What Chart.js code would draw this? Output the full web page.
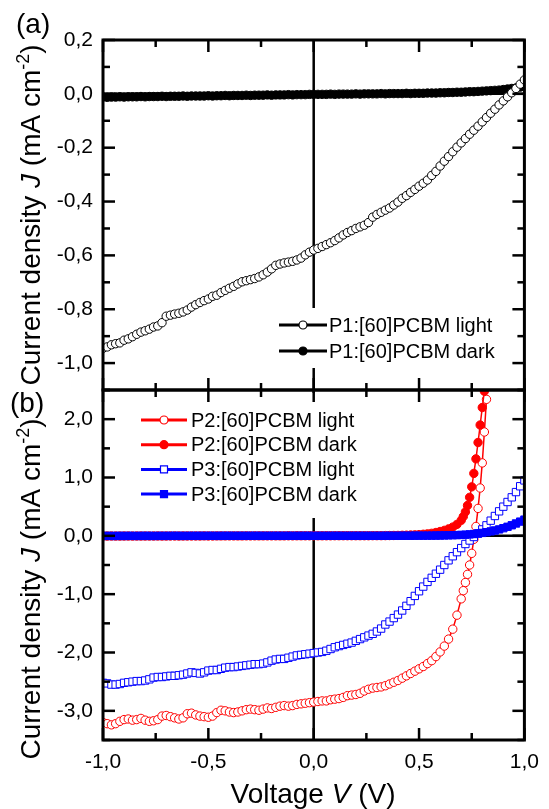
<!DOCTYPE html>
<html>
<head>
<meta charset="utf-8">
<script src="https://cdn.jsdelivr.net/npm/chart.js@4.4.1/dist/chart.umd.min.js"></script>
<style>
  html, body { margin: 0; padding: 0; background: #fff; }
  canvas { display: block; }
</style>
</head>
<body>
<canvas id="jvChart" width="549" height="809"></canvas>
<script>
// voltage sweep (V)
const volts = [
  -1.00, -0.98, -0.96, -0.94, -0.92, -0.90, -0.88, -0.86, -0.84, -0.82,
  -0.80, -0.78, -0.76, -0.74, -0.72, -0.70, -0.68, -0.66, -0.64, -0.62,
  -0.60, -0.58, -0.56, -0.54, -0.52, -0.50, -0.48, -0.46, -0.44, -0.42,
  -0.40, -0.38, -0.36, -0.34, -0.32, -0.30, -0.28, -0.26, -0.24, -0.22,
  -0.20, -0.18, -0.16, -0.14, -0.12, -0.10, -0.08, -0.06, -0.04, -0.02,
  0.00, 0.02, 0.04, 0.06, 0.08, 0.10, 0.12, 0.14, 0.16, 0.18,
  0.20, 0.22, 0.24, 0.26, 0.28, 0.30, 0.32, 0.34, 0.36, 0.38,
  0.40, 0.42, 0.44, 0.46, 0.48, 0.50, 0.52, 0.54, 0.56, 0.58,
  0.60, 0.62, 0.64, 0.66, 0.68, 0.70, 0.72, 0.74, 0.76, 0.78,
  0.80, 0.82, 0.84, 0.86, 0.88, 0.90, 0.92, 0.94, 0.96, 0.98,
  1.00
];

// P2 sweep: finer steps past 0.70 V, stops where the current leaves the axis
const voltsP2 = [
  -1.00, -0.98, -0.96, -0.94, -0.92, -0.90, -0.88, -0.86, -0.84, -0.82,
  -0.80, -0.78, -0.76, -0.74, -0.72, -0.70, -0.68, -0.66, -0.64, -0.62,
  -0.60, -0.58, -0.56, -0.54, -0.52, -0.50, -0.48, -0.46, -0.44, -0.42,
  -0.40, -0.38, -0.36, -0.34, -0.32, -0.30, -0.28, -0.26, -0.24, -0.22,
  -0.20, -0.18, -0.16, -0.14, -0.12, -0.10, -0.08, -0.06, -0.04, -0.02,
  0.00, 0.02, 0.04, 0.06, 0.08, 0.10, 0.12, 0.14, 0.16, 0.18,
  0.20, 0.22, 0.24, 0.26, 0.28, 0.30, 0.32, 0.34, 0.36, 0.38,
  0.40, 0.42, 0.44, 0.46, 0.48, 0.50, 0.52, 0.54, 0.56, 0.58,
  0.60, 0.62, 0.64, 0.66, 0.68, 0.70,
  0.71, 0.72, 0.73, 0.74, 0.75, 0.76, 0.77, 0.78, 0.79, 0.80, 0.81, 0.82
];

// current density J (mA cm^-2)
const p1Light = [
  -0.945, -0.940, -0.932, -0.928, -0.925, -0.915, -0.910, -0.902, -0.893, -0.885,
  -0.880, -0.874, -0.866, -0.862, -0.850, -0.826, -0.822, -0.818, -0.815, -0.810,
  -0.803, -0.792, -0.783, -0.775, -0.768, -0.762, -0.752, -0.748, -0.738, -0.730,
  -0.722, -0.715, -0.706, -0.698, -0.694, -0.690, -0.686, -0.680, -0.672, -0.662,
  -0.650, -0.637, -0.632, -0.628, -0.625, -0.622, -0.617, -0.610, -0.598, -0.588,
  -0.580, -0.574, -0.567, -0.560, -0.553, -0.545, -0.535, -0.524, -0.515, -0.508,
  -0.500, -0.494, -0.488, -0.478, -0.458, -0.448, -0.440, -0.432, -0.424, -0.413,
  -0.402, -0.388, -0.378, -0.366, -0.355, -0.343, -0.332, -0.320, -0.303, -0.288,
  -0.268, -0.250, -0.233, -0.215, -0.198, -0.182, -0.166, -0.150, -0.135, -0.120,
  -0.104, -0.088, -0.072, -0.057, -0.041, -0.026, -0.011, 0.004, 0.020, 0.036,
  0.052
];
const p1Dark = [
  -0.012, -0.013, -0.012, -0.012, -0.011, -0.012, -0.011, -0.011, -0.011, -0.010,
  -0.011, -0.010, -0.010, -0.010, -0.009, -0.010, -0.009, -0.009, -0.009, -0.008,
  -0.009, -0.008, -0.008, -0.008, -0.008, -0.007, -0.008, -0.007, -0.007, -0.006,
  -0.007, -0.006, -0.006, -0.006, -0.005, -0.006, -0.005, -0.005, -0.005, -0.004,
  -0.005, -0.004, -0.004, -0.004, -0.003, -0.004, -0.003, -0.003, -0.003, -0.002,
  -0.002, -0.002, -0.002, -0.002, -0.001, -0.002, -0.001, -0.001, -0.001, -0.001,
  0.000, -0.001, 0.000, 0.000, 0.000, 0.000, 0.001, 0.000, 0.001, 0.001,
  0.001, 0.001, 0.002, 0.001, 0.002, 0.002, 0.002, 0.003, 0.003, 0.003,
  0.004, 0.004, 0.005, 0.005, 0.006, 0.006, 0.007, 0.008, 0.008, 0.009,
  0.010, 0.011, 0.012, 0.013, 0.014, 0.016, 0.018, 0.020, 0.022, 0.025,
  0.028
];
const p2Light = [
  -3.20, -3.22, -3.24, -3.22, -3.18, -3.15, -3.14, -3.16, -3.15, -3.13,
  -3.16, -3.18, -3.17, -3.15, -3.09, -3.08, -3.10, -3.12, -3.14, -3.12,
  -3.05, -3.04, -3.07, -3.09, -3.10, -3.11, -3.09, -3.03, -2.99, -3.00,
  -3.02, -3.03, -3.02, -3.00, -2.98, -2.97, -2.98, -2.99, -2.97, -2.95,
  -2.96, -2.94, -2.92, -2.91, -2.92, -2.91, -2.89, -2.88, -2.87, -2.86,
  -2.85, -2.84, -2.83, -2.83, -2.81, -2.80, -2.79, -2.77, -2.74, -2.73,
  -2.72, -2.70, -2.66, -2.63, -2.61, -2.60, -2.59, -2.57, -2.54, -2.51,
  -2.48, -2.44, -2.40, -2.36, -2.32, -2.28, -2.24, -2.19, -2.14, -2.07,
  -1.99, -1.89, -1.77, -1.60, -1.36, -1.08,
  -0.94, -0.80, -0.66, -0.50, -0.30, -0.06, 0.16, 0.47, 0.82, 1.25, 1.78, 2.34
];
const p2Dark = [
  -0.004, -0.004, -0.003, -0.004, -0.004, -0.003, -0.003, -0.004, -0.003, -0.003,
  -0.003, -0.003, -0.003, -0.002, -0.003, -0.003, -0.002, -0.002, -0.003, -0.002,
  -0.002, -0.002, -0.002, -0.002, -0.001, -0.002, -0.002, -0.001, -0.001, -0.001,
  -0.001, -0.001, -0.001, -0.001, 0.000, -0.001, 0.000, 0.000, 0.000, 0.000,
  0.000, 0.000, 0.000, 0.000, 0.001, 0.000, 0.001, 0.001, 0.001, 0.001,
  0.001, 0.001, 0.001, 0.001, 0.001, 0.002, 0.002, 0.002, 0.002, 0.002,
  0.002, 0.002, 0.002, 0.002, 0.003, 0.003, 0.003, 0.004, 0.005, 0.006,
  0.007, 0.009, 0.011, 0.014, 0.017, 0.021, 0.027, 0.034, 0.043, 0.057,
  0.074, 0.094, 0.119, 0.150, 0.196, 0.265,
  0.33, 0.41, 0.52, 0.66, 0.84, 1.07, 1.32, 1.60, 1.90, 2.20, 2.48, 2.78
];
const p3Light = [
  -2.52, -2.53, -2.55, -2.55, -2.54, -2.52, -2.51, -2.50, -2.49, -2.49,
  -2.48, -2.46, -2.43, -2.42, -2.42, -2.41, -2.40, -2.40, -2.39, -2.38,
  -2.36, -2.34, -2.35, -2.36, -2.34, -2.31, -2.30, -2.30, -2.28, -2.26,
  -2.25, -2.25, -2.24, -2.23, -2.22, -2.21, -2.20, -2.20, -2.19, -2.17,
  -2.14, -2.12, -2.11, -2.11, -2.09, -2.07, -2.05, -2.04, -2.03, -2.02,
  -2.01, -2.00, -1.99, -1.97, -1.94, -1.91, -1.89, -1.87, -1.85, -1.83,
  -1.80, -1.77, -1.74, -1.71, -1.68, -1.64, -1.59, -1.52, -1.47, -1.41,
  -1.35, -1.28, -1.20, -1.12, -1.03, -0.95, -0.87, -0.79, -0.72, -0.65,
  -0.58, -0.50, -0.42, -0.35, -0.28, -0.21, -0.14, -0.08, -0.02, 0.04,
  0.11, 0.18, 0.26, 0.34, 0.42, 0.50, 0.58, 0.66, 0.75, 0.85,
  0.95
];
const p3Dark = [
  -0.002, -0.001, -0.002, -0.002, -0.001, -0.002, -0.001, -0.001, -0.002, -0.001,
  -0.001, -0.001, -0.002, -0.001, -0.001, -0.001, -0.001, 0.000, -0.001, -0.001,
  -0.001, 0.000, -0.001, 0.000, -0.001, 0.000, 0.000, -0.001, 0.000, 0.000,
  0.000, 0.000, 0.000, 0.000, 0.000, 0.000, 0.000, 0.000, 0.000, 0.000,
  0.000, 0.000, 0.000, 0.000, 0.000, 0.000, 0.000, 0.000, 0.000, 0.000,
  0.000, 0.000, 0.000, 0.000, 0.000, 0.000, 0.000, 0.000, 0.000, 0.000,
  0.000, 0.000, 0.000, 0.000, 0.000, 0.000, 0.000, 0.001, 0.001, 0.001,
  0.001, 0.002, 0.002, 0.002, 0.003, 0.003, 0.003, 0.004, 0.004, 0.005,
  0.006, 0.007, 0.009, 0.011, 0.013, 0.016, 0.020, 0.025, 0.031, 0.040,
  0.050, 0.062, 0.076, 0.092, 0.110, 0.131, 0.155, 0.181, 0.212, 0.244,
  0.278
];

// axis ticks
const xTicks = [-1, -0.5, 0, 0.5, 1];
const topTicks = [0.2, 0, -0.2, -0.4, -0.6, -0.8, -1.0];
const bottomTicks = [2, 1, 0, -1, -2, -3];

const FONT = "'Liberation Sans', Arial, sans-serif";
const RED = 'rgb(255, 0, 0)';
const BLUE = 'rgb(0, 0, 255)';
const BLACK = '#000';

Chart.defaults.font.family = FONT;
Chart.defaults.color = BLACK;

function pairs(xs, ys) {
  return xs.map((v, i) => ({ x: v, y: ys[i] }));
}

function comma(v) {
  return Number(v).toFixed(1).replace('.', ',');
}

function series(label, xs, ys, color, style, filled, axis, order) {
  return {
    label: label,
    data: pairs(xs, ys),
    yAxisID: axis,
    order: order,
    borderColor: color,
    backgroundColor: color,
    borderWidth: 1.5,
    pointStyle: style,
    pointRadius: style === 'rect' ? 5.2 : 4.2,
    pointBorderWidth: 1,
    pointBorderColor: color,
    pointBackgroundColor: filled ? color : '#fff',
    tension: 0
  };
}

// legend placement per panel
const legendSpec = {
  yA: { x: 279, y: 325, gap: 26, len: 48, textX: 329, box: [268, 308, 235, 60] },
  yB: { x: 141, y: 420, gap: 24.7, len: 46, textX: 191, box: [130, 393, 236, 125] }
};

function seg(ctx, x1, y1, x2, y2) {
  ctx.beginPath();
  ctx.moveTo(x1, y1);
  ctx.lineTo(x2, y2);
  ctx.stroke();
}

function marker(ctx, ds, x, y) {
  ctx.save();
  ctx.lineWidth = 1.2;
  ctx.strokeStyle = ds.pointBorderColor;
  ctx.fillStyle = ds.pointBackgroundColor;
  ctx.beginPath();
  if (ds.pointStyle === 'rect') {
    ctx.rect(x - 3.5, y - 3.5, 7, 7);
  } else {
    ctx.arc(x, y, 4, 0, Math.PI * 2);
  }
  ctx.fill();
  ctx.stroke();
  ctx.restore();
}

function richText(ctx, parts, cx, cy, angle) {
  ctx.save();
  ctx.translate(cx, cy);
  ctx.rotate(angle);
  ctx.textAlign = 'left';
  ctx.textBaseline = 'alphabetic';
  ctx.fillStyle = BLACK;
  let total = 0;
  parts.forEach(p => { ctx.font = p.font; total += ctx.measureText(p.text).width; });
  let x = -total / 2;
  parts.forEach(p => {
    ctx.font = p.font;
    ctx.fillText(p.text, x, p.dy || 0);
    x += ctx.measureText(p.text).width;
  });
  ctx.restore();
}

const yTitle = [
  { text: 'Current density ', font: '28px ' + FONT },
  { text: 'J', font: 'italic 28px ' + FONT },
  { text: ' (mA cm', font: '28px ' + FONT },
  { text: '-2', font: '18px ' + FONT, dy: -11 },
  { text: ')', font: '28px ' + FONT }
];
const xTitle = [
  { text: 'Voltage ', font: '28px ' + FONT },
  { text: 'V', font: 'italic 28px ' + FONT },
  { text: ' (V)', font: '28px ' + FONT }
];

function panelTicks(ctx, xs, ys, majors, minorStep) {
  ctx.lineWidth = 2.5;
  for (let k = 0; k <= 8; k++) {
    const v = -1 + k * 0.25;
    const len = k % 2 === 0 ? 12 : 7;
    const px = xs.getPixelForValue(v);
    seg(ctx, px, ys.top, px, ys.top + len);
    seg(ctx, px, ys.bottom, px, ys.bottom - len);
  }
  const n = Math.round((ys.max - ys.min) / minorStep);
  for (let k = 0; k <= n; k++) {
    const v = ys.min + k * minorStep;
    const isMajor = majors.some(m => Math.abs(m - v) < 1e-6);
    const len = isMajor ? 12 : 7;
    const py = ys.getPixelForValue(v);
    seg(ctx, xs.left, py, xs.left + len, py);
    seg(ctx, xs.right, py, xs.right - len, py);
  }
}

const panelFrame = {
  id: 'panelFrame',
  beforeDatasetsDraw(chart) {
    const { ctx } = chart;
    const x = chart.scales.x, yA = chart.scales.yA, yB = chart.scales.yB;
    ctx.save();
    ctx.strokeStyle = BLACK;
    ctx.lineWidth = 2.5;
    [yA, yB].forEach(ys => {
      const py = ys.getPixelForValue(0);
      seg(ctx, x.left, py, x.right, py);
    });
    const px = x.getPixelForValue(0);
    seg(ctx, px, yA.top, px, yB.bottom);
    ctx.restore();
  },
  afterDatasetsDraw(chart) {
    const { ctx } = chart;
    const x = chart.scales.x, yA = chart.scales.yA, yB = chart.scales.yB;
    ctx.save();

    // legends
    Object.keys(legendSpec).forEach(id => {
      const spec = legendSpec[id];
      ctx.fillStyle = '#fff';
      ctx.fillRect(spec.box[0], spec.box[1], spec.box[2], spec.box[3]);
      chart.data.datasets.filter(d => d.yAxisID === id).forEach((d, i) => {
        const y = spec.y + i * spec.gap;
        ctx.strokeStyle = d.borderColor;
        ctx.lineWidth = 3;
        seg(ctx, spec.x, y, spec.x + spec.len, y);
        marker(ctx, d, spec.x + spec.len / 2, y);
        ctx.fillStyle = BLACK;
        ctx.font = '20px ' + FONT;
        ctx.textAlign = 'left';
        ctx.textBaseline = 'middle';
        ctx.fillText(d.label, spec.textX, y + 1);
      });
    });

    // frames and inward ticks
    ctx.strokeStyle = BLACK;
    panelTicks(ctx, x, yA, topTicks, 0.1);
    panelTicks(ctx, x, yB, bottomTicks, 0.5);
    ctx.lineWidth = 3;
    [yA, yB].forEach(ys => {
      ctx.strokeRect(x.left, ys.top, x.right - x.left, ys.bottom - ys.top);
    });

    // titles and panel letters
    richText(ctx, yTitle, 40, (yA.top + yA.bottom) / 2, -Math.PI / 2);
    richText(ctx, yTitle, 40, 589, -Math.PI / 2);
    richText(ctx, xTitle, 313, 803, 0);
    ctx.fillStyle = BLACK;
    ctx.font = '28px ' + FONT;
    ctx.textAlign = 'left';
    ctx.textBaseline = 'middle';
    ctx.fillText('(a)', 16, 25);
    ctx.fillText('(b)', 10, 404);
    ctx.restore();
  }
};

const yCommon = {
  type: 'linear',
  position: 'left',
  stack: 'jv',
  stackWeight: 1,
  grid: { display: false, drawTicks: false },
  border: { display: false },
  ticks: { padding: 10, font: { size: 21 }, color: BLACK, callback: comma },
  afterFit: s => { s.width = 103; }
};

new Chart(document.getElementById('jvChart'), {
  type: 'line',
  data: {
    datasets: [
      series('P1:[60]PCBM light', volts, p1Light, BLACK, 'circle', false, 'yA', 1),
      series('P1:[60]PCBM dark', volts, p1Dark, BLACK, 'circle', true, 'yA', 2),
      series('P2:[60]PCBM light', voltsP2, p2Light, RED, 'circle', false, 'yB', 4),
      series('P2:[60]PCBM dark', voltsP2, p2Dark, RED, 'circle', true, 'yB', 3),
      series('P3:[60]PCBM light', volts, p3Light, BLUE, 'rect', false, 'yB', 2),
      series('P3:[60]PCBM dark', volts, p3Dark, BLUE, 'rect', true, 'yB', 1)
    ]
  },
  options: {
    responsive: false,
    animation: false,
    devicePixelRatio: 1,
    layout: { padding: { top: 40, right: 18, left: 0, bottom: 0 } },
    plugins: { legend: { display: false }, tooltip: { enabled: false } },
    scales: {
      x: {
        type: 'linear',
        min: -1,
        max: 1,
        grid: { display: false, drawTicks: false },
        border: { display: false },
        ticks: { padding: 10, font: { size: 21 }, color: BLACK, callback: comma, maxRotation: 0, autoSkip: false },
        afterBuildTicks: s => { s.ticks = xTicks.map(v => ({ value: v })); },
        afterFit: s => { s.height = 69; }
      },
      yB: Object.assign({}, yCommon, {
        min: -3.5,
        max: 2.5,
        afterBuildTicks: s => { s.ticks = bottomTicks.map(v => ({ value: v })); }
      }),
      yA: Object.assign({}, yCommon, {
        min: -1.1,
        max: 0.2,
        afterBuildTicks: s => { s.ticks = topTicks.map(v => ({ value: v })); }
      })
    }
  },
  plugins: [panelFrame]
});
</script>
</body>
</html>
